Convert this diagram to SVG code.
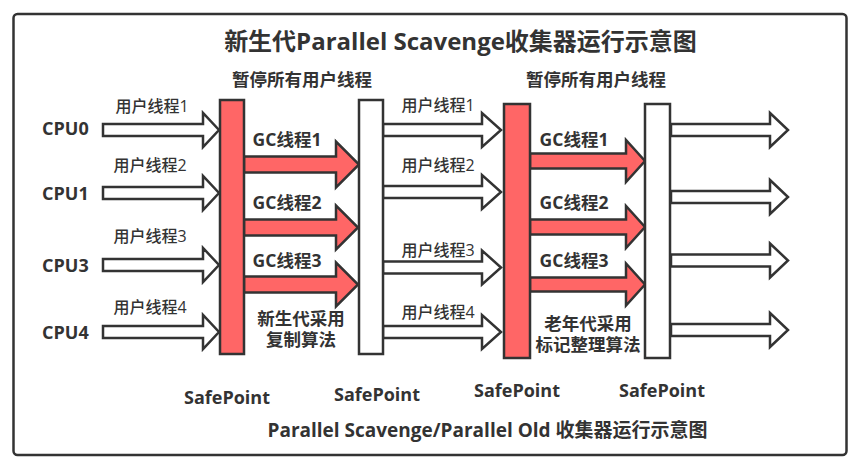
<svg xmlns="http://www.w3.org/2000/svg" width="859" height="468" viewBox="0 0 859 468">
<style>
text{font-family:"Open Sans","Noto Sans CJK SC",sans-serif;fill:#333;}
.t{font-size:24px;font-weight:bold;text-anchor:middle;}
.h{font-size:17.5px;font-weight:bold;text-anchor:middle;}
.cpu{font-size:18px;font-weight:bold;}
.u{font-size:16px;font-weight:500;text-anchor:middle;}
.sp{font-size:18px;font-weight:bold;text-anchor:middle;}
.bar{stroke:#333;stroke-width:2.5;}
.red{fill:#FF6666;}
.white{fill:#fff;}
.ha{fill:#fff;stroke:#333;stroke-width:2.5;stroke-linejoin:miter;}
.ra{fill:#FF6666;stroke:#333;stroke-width:2.5;stroke-linejoin:miter;}
</style>
<rect x="13.5" y="14" width="833" height="441" rx="4" fill="#fff" stroke="#333" stroke-width="2.5"/>
<text class="t" x="460.5" y="50">新生代Parallel Scavenge收集器运行示意图</text>
<g id="connectors">
  <path class="ha" d="M103,124 H203 V113 L219,130 L203,147 V136 H103 Z"/>
  <path class="ha" d="M103,187 H203 V176 L219,193 L203,210 V199 H103 Z"/>
  <path class="ha" d="M103,259 H203 V248 L219,265 L203,282 V271 H103 Z"/>
  <path class="ha" d="M103,326 H203 V315 L219,332 L203,349 V338 H103 Z"/>
  <path class="ra" d="M244,156.5 H336 V141.5 L359,164.5 L336,187.5 V172.5 H244 Z"/>
  <path class="ra" d="M244,219.5 H336 V205.5 L358,227.5 L336,249.5 V235.5 H244 Z"/>
  <path class="ra" d="M244,276.5 H336 V262.5 L358,284.5 L336,306.5 V292.5 H244 Z"/>
  <path class="ha" d="M383,124 H482 V113 L501,130 L482,147 V136 H383 Z"/>
  <path class="ha" d="M383,186 H482 V175 L501,192 L482,209 V198 H383 Z"/>
  <path class="ha" d="M383,261.5 H482 V250.5 L501,267.5 L482,284.5 V273.5 H383 Z"/>
  <path class="ha" d="M383,326 H482 V315 L501,332 L482,349 V338 H383 Z"/>
  <path class="ra" d="M530,153.5 H626 V140 L645,161 L626,182 V168.5 H530 Z"/>
  <path class="ra" d="M530,219.5 H626 V206 L645,227 L626,248 V234.5 H530 Z"/>
  <path class="ra" d="M530,277.5 H626 V263.5 L645,284.5 L626,305.5 V291.5 H530 Z"/>
  <path class="ha" d="M671,124 H770 V113 L788,130 L770,147 V136 H671 Z"/>
  <path class="ha" d="M671,191 H770 V180 L788,197 L770,214 V203 H671 Z"/>
  <path class="ha" d="M671,254.5 H770 V243.5 L788,260.5 L770,277.5 V266.5 H671 Z"/>
  <path class="ha" d="M671,324 H770 V313 L788,330 L770,347 V336 H671 Z"/>
</g>
<g id="safepoint1"><rect class="bar red" x="220" y="100" width="24" height="254"/><text class="sp" x="227" y="404">SafePoint</text></g>
<g id="safepoint2"><rect class="bar white" x="359" y="100" width="24" height="254"/><text class="sp" x="377" y="400.5">SafePoint</text></g>
<g id="safepoint3"><rect class="bar red" x="504" y="104" width="26" height="254"/><text class="sp" x="517" y="397">SafePoint</text></g>
<g id="safepoint4"><rect class="bar white" x="645" y="104" width="25" height="254"/><text class="sp" x="662" y="397">SafePoint</text></g>
<g id="labels">
  <text class="h" x="302" y="85.5">暂停所有用户线程</text>
  <text class="h" x="596" y="85.5">暂停所有用户线程</text>
  <text class="cpu" x="42" y="135">CPU0</text>
  <text class="cpu" x="42" y="200">CPU1</text>
  <text class="cpu" x="42" y="272">CPU3</text>
  <text class="cpu" x="42" y="339">CPU4</text>
  <text class="u" x="152" y="112">用户线程1</text>
  <text class="u" x="150" y="171">用户线程2</text>
  <text class="u" x="150" y="242">用户线程3</text>
  <text class="u" x="150" y="313">用户线程4</text>
  <text class="u" x="438" y="111">用户线程1</text>
  <text class="u" x="438" y="171">用户线程2</text>
  <text class="u" x="438" y="256">用户线程3</text>
  <text class="u" x="438" y="318">用户线程4</text>
  <text class="h" x="287" y="146">GC线程1</text>
  <text class="h" x="287" y="209">GC线程2</text>
  <text class="h" x="287" y="267">GC线程3</text>
  <text class="h" x="574" y="146">GC线程1</text>
  <text class="h" x="574" y="209">GC线程2</text>
  <text class="h" x="574" y="267">GC线程3</text>
  <text class="h" x="301" y="324.5">新生代采用<tspan x="301" dy="21.5">复制算法</tspan></text>
  <text class="h" x="588" y="329.5">老年代采用<tspan x="588" dy="21.5">标记整理算法</tspan></text>
  <text class="t" style="font-size:19px" x="487.5" y="437">Parallel Scavenge/Parallel Old 收集器运行示意图</text>
</g>
</svg>
